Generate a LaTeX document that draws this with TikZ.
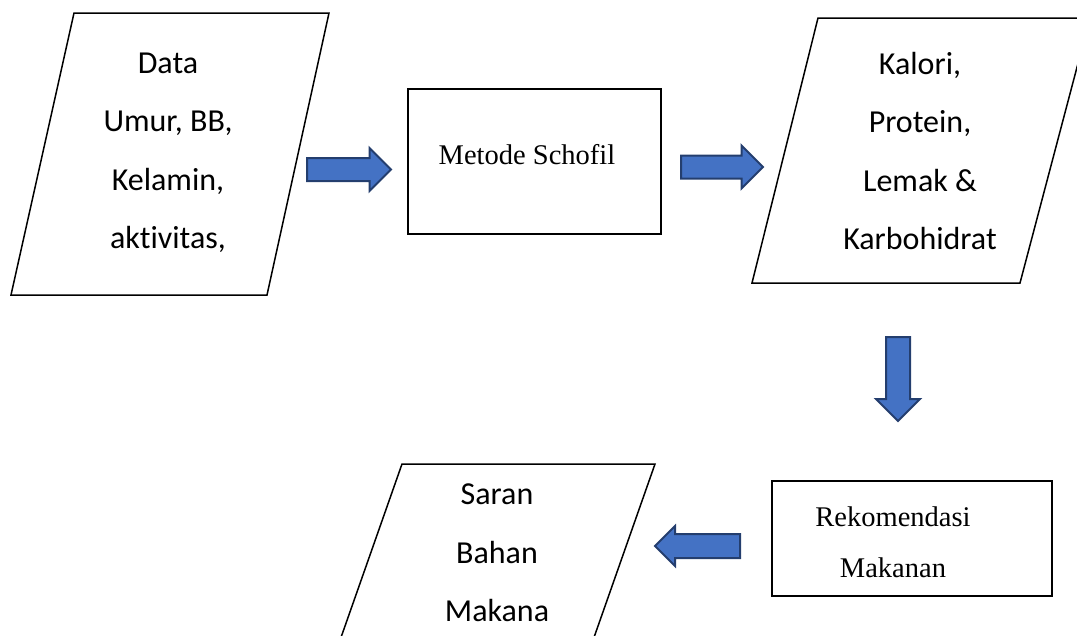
\documentclass[tikz,border=0pt]{standalone}
\usepackage{fontspec}
\setmainfont{Carlito}[Ligatures=NoCommon]
\newfontfamily\timesfont{Liberation Serif}
\usetikzlibrary{shapes.arrows}

\definecolor{arrowfill}{RGB}{68,114,196}
\definecolor{arrowline}{RGB}{36,62,110}

\begin{document}
\begin{tikzpicture}[x=1pt, y=-1pt, line width=1.5pt,
  io/.style = {align=center, inner sep=0pt, font=\fontsize{32}{58.5}\selectfont},
  proc/.style = {align=center, inner sep=0pt, font=\timesfont\fontsize{28.5}{51}\selectfont},
  kotak/.style = {draw, inner sep=0pt},
  blok/.style = {single arrow, draw=arrowline, fill=arrowfill, line width=2pt, inner xsep=0pt,
    inner ysep=10.5pt, single arrow head extend=10pt, minimum height=84pt, anchor=tail}]
  \useasboundingbox (0,0) rectangle (1077,635);
  \clip (0,0) rectangle (1077,635);
  % input data
  \draw (74,13) -- (329,13) -- (267,295) -- (11,295) -- cycle;
  \node[io] (data) at (168,153) {Data\\Umur, BB,\\Kelamin,\\aktivitas,};
  % proses
  \node[kotak, minimum width=253pt, minimum height=145pt] (metode) at (534.5,161.5) {};
  \node[proc] (metodetxt) at (527,155) {Metode Schofil};
  % hasil gizi
  \draw (818,18) -- (1090,18) -- (1020,283) -- (752,283) -- cycle;
  \node[io] (gizi) at (920,151) {Kalori,\\Protein,\\Lemak \&\\Karbohidrat};
  % rekomendasi
  \node[kotak, minimum width=280pt, minimum height=115pt] (rekom) at (912,538.5) {};
  \node[proc] (rekomtxt) at (893,542) {Rekomendasi\\Makanan};
  % saran
  \draw (402,464) -- (655,464) -- (572,700) -- (319,700) -- cycle;
  \node[io] (saran) at (497,553) {Saran\\Bahan\\Makana};
  % panah blok
  \node[blok] (panah1) at (306,169.5) {};
  \node[blok, minimum height=82pt] (panah2) at (680,167) {};
  \node[blok, shape border rotate=270, inner xsep=11pt, inner ysep=0pt] (panah3) at (898,336) {};
  \node[blok, shape border rotate=180, inner ysep=11pt, single arrow head extend=8pt, minimum height=85pt] (panah4) at (741,546) {};
\end{tikzpicture}
\end{document}
